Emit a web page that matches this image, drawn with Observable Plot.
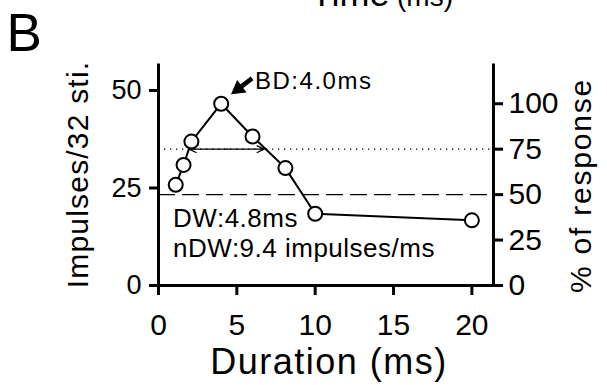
<!DOCTYPE html>
<html><head><meta charset="utf-8">
<script src="https://cdn.jsdelivr.net/npm/d3@7"></script>
<script src="https://cdn.jsdelivr.net/npm/@observablehq/plot@0.6"></script>
<style>body{margin:0;background:#fff}</style>
</head><body><div id="chart"></div>
<script>
// Data
const durations = [1.1, 1.6, 2.1, 4.0, 6.0, 8.1, 10, 20];
const impulses = [25.8, 30.9, 36.9, 46.6, 38.2, 30.1, 18.4, 16.7];
const xTicks = [0, 5, 10, 15, 20];
const yTicks = [0, 25, 50];
const pctTicks = [0, 25, 50, 75, 100];
const peakResponse = 46.6;       // impulses corresponding to 100 %
const xMax = 21.38, yMax = 56.4;
const dwStart = 1.95, dwEnd = 6.75, dwPct = 75, halfPct = 50;
const bdShaft = [{x1: 5.97, y1: 53.1, x2: 5.09, y2: 50.4}];
const bdHead = [{x: 5.09, y: 50.4}];
const annotations = [
  {id: "bd", text: "BD:4.0ms", x: 6.16, y: 50.5, size: 24, spacing: 1.5},
  {id: "dw", text: "DW:4.8ms", x: 0.93, y: 15.1, size: 26, spacing: 0.5},
  {id: "ndw", text: "nDW:9.4 impulses/ms", x: 0.93, y: 7.4, size: 26, spacing: 0.5}
];

const data = durations.map((d, i) => ({x: d, y: impulses[i]}));
const lvl = p => p * peakResponse / 100;
const mid = (dwStart + dwEnd) / 2;
const dwArrows = [
  {x1: mid, x2: dwStart, y: lvl(dwPct)},
  {x1: mid, x2: dwEnd, y: lvl(dwPct)}
];

const chart = Plot.plot({
  width: 607, height: 385,
  marginLeft: 158, marginRight: 114, marginTop: 65, marginBottom: 100,
  x: {domain: [0, xMax]},
  y: {domain: [0, yMax]},
  style: {fontFamily: "'Liberation Sans', Arial, sans-serif", color: "black", background: "white", overflow: "visible"},
  marks: [
    Plot.ruleY([lvl(dwPct)], {stroke: "black", strokeWidth: 1.3, strokeDasharray: "1.3,4.7"}),
    Plot.ruleY([lvl(halfPct)], {stroke: "black", strokeWidth: 1.3, strokeDasharray: "17,7"}),
    Plot.line(data, {x: "x", y: "y", stroke: "black", strokeWidth: 2}),
    Plot.arrow(dwArrows, {x1: "x1", x2: "x2", y1: "y", y2: "y", stroke: "black", strokeWidth: 1.3, headLength: 9, headAngle: 50}),
    Plot.dot(data, {x: "x", y: "y", r: 7, fill: "white", stroke: "black", strokeWidth: 2}),
    Plot.link(bdShaft, {x1: "x1", y1: "y1", x2: "x2", y2: "y2", stroke: "black", strokeWidth: 4.5}),
    Plot.dot(bdHead, {x: "x", y: "y", symbol: "triangle", r: 5.2, fill: "black", stroke: "black", strokeWidth: 1, rotate: 233}),
    ...annotations.map(a => Plot.text([a], {x: "x", y: "y", text: "text", fontSize: a.size, textAnchor: "start", lineAnchor: "bottom", fill: "black", ariaDescription: "ann-" + a.id})),
    Plot.ruleX([0, xMax], {stroke: "black", strokeWidth: 3, strokeLinecap: "square"}),
    Plot.ruleY([0], {stroke: "black", strokeWidth: 3, strokeLinecap: "square"}),
    Plot.axisX({ticks: xTicks, tickSize: 10, tickPadding: 18, fontSize: 30, strokeWidth: 3, label: null}),
    Plot.axisY({ticks: yTicks, anchor: "left", tickSize: 9, tickPadding: 8, fontSize: 27, strokeWidth: 3, label: null}),
    Plot.axisY({ticks: pctTicks.map(lvl), anchor: "right", tickFormat: d => Math.round(d / peakResponse * 100), tickSize: 9, tickPadding: 6, fontSize: 30, strokeWidth: 3, label: null}),
    Plot.text(["Impulses/32 sti."], {frameAnchor: "left", dx: -71, dy: -1, rotate: -90, textAnchor: "middle", lineAnchor: "bottom", fontSize: 30, ariaDescription: "ylabel"}),
    Plot.text(["% of response"], {frameAnchor: "right", dx: 97, dy: 10, rotate: -90, textAnchor: "middle", lineAnchor: "bottom", fontSize: 30, ariaDescription: "ylabel2"}),
    Plot.text(["Duration (ms)"], {frameAnchor: "bottom", dx: 3, dy: 88, textAnchor: "middle", lineAnchor: "bottom", fontSize: 36, ariaDescription: "xlabel"}),
    Plot.text(["B"], {frameAnchor: "top-left", dx: -152, dy: -15, textAnchor: "start", lineAnchor: "bottom", fontSize: 53}),
    Plot.text(["Time"], {frameAnchor: "top", dx: 63.5, dy: -60, textAnchor: "end", lineAnchor: "bottom", fontSize: 36}),
    Plot.text(["(ms)"], {frameAnchor: "top", dx: 71, dy: -60, textAnchor: "start", lineAnchor: "bottom", fontSize: 28})
  ]
});
document.getElementById("chart").appendChild(chart);
const svg = d3.select(chart);
const spacing = (id, px) => svg.selectAll(`g[aria-description="${id}"]`).style("letter-spacing", px + "px");
annotations.forEach(a => spacing("ann-" + a.id, a.spacing));
spacing("ylabel", 1.2);
spacing("ylabel2", 1.8);
spacing("xlabel", 1.5);
</script>
</body></html>
